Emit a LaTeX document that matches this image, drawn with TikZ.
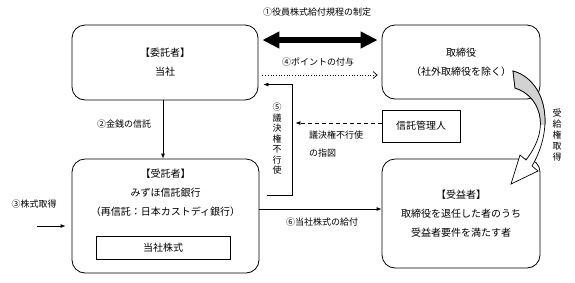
\documentclass[tikz,border=0pt]{standalone}
\usepackage{fontspec}
\setmainfont{Noto Sans CJK JP}
\usetikzlibrary{arrows.meta,positioning,calc}

\begin{document}
\begin{tikzpicture}[
  x=1pt, y=-1pt,
  font=\fontsize{10}{19}\selectfont,
  party/.style={draw, rounded corners=13pt, line width=0.8pt, align=center, fill=white},
  plain/.style={draw, line width=0.8pt, align=center},
  lbl/.style={font=\fontsize{9}{18}\selectfont, inner sep=0pt},
  vlbl/.style={font=\fontsize{9}{10.5}\selectfont, align=center, inner sep=0pt},
  arr/.style={-{Latex[length=5pt,width=4pt]}, line width=0.8pt},
  bigarr/.style={{Triangle[length=17pt,width=16pt]}-{Triangle[length=17pt,width=16pt]}, line width=6pt},
  dotarr/.style={-{Straight Barb[length=4pt,width=7pt]}, dotted, line width=0.7pt}
]
\useasboundingbox (0,0) rectangle (575,282);
% parties
\node[party, minimum width=186pt, minimum height=75pt] (entrust) at (165,62.5) {【委託者】\\当社};
\node[party, minimum width=158pt, minimum height=74pt] (director) at (461,62) {取締役\\（社外取締役を除く）};
\node[party, minimum width=187pt, minimum height=114pt] (trustee) at (165.5,216) {};
\node[align=center, below=7pt of trustee.north] (trusteetext) {【受託者】\\みずほ信託銀行\\（再信託：日本カストディ銀行）};
\node[plain, minimum width=134pt, minimum height=23pt] (stock) at (163,247.5) {当社株式};
\node[party, minimum width=158pt, minimum height=109pt] (benef) at (461,213.5) {【受益者】\\取締役を退任した者のうち\\受益者要件を満たす者};
\node[plain, minimum width=78pt, minimum height=32pt] (admin) at (421,126) {信託管理人};

% labels
\node[lbl] (rule) at (317,12) {①役員株式給付規程の制定};
\node[lbl] (money) at (124,124) {②金銭の信託};
\node[lbl] (buy) at (34,204) {③株式取得};
\node[lbl] (point) at (318,62) {④ポイントの付与};
\node[vlbl] (vote) at (277,139) {⑤\\議\\決\\権\\不\\行\\使};
\node[lbl] (give) at (322,222) {⑥当社株式の給付};
\node[lbl, align=left, anchor=west] (order) at (309,144) {議決権不行使\\の指図};
\node[vlbl, font=\fontsize{9}{11}\selectfont] (right) at (557,135) {受\\給\\権\\取\\得};

% connectors
\draw[bigarr] ([xshift=4pt,yshift=22.5pt]entrust.east) -- ([xshift=-4pt,yshift=22pt]director.west);
\draw[dotarr] ([xshift=4pt,yshift=-12.5pt]entrust.east) -- ([xshift=-4pt,yshift=-13pt]director.west);
\draw[arr] ([xshift=-2pt]entrust.south) -- ([xshift=-2pt]entrust.south |- trustee.north);
\coordinate (src) at (37,226);
\draw[arr] (src) -- ([xshift=-6pt]src -| trustee.west);
\coordinate (vtop) at ([xshift=34pt,yshift=-22pt]entrust.east);
\draw[arr] ([xshift=8pt,yshift=21pt]trustee.east) -| (vtop) -- ([xshift=5pt,yshift=-22pt]entrust.east);
\draw[arr, dashed, dash pattern=on 4pt off 3pt] ([yshift=3pt]admin.west) -- ([xshift=3pt,yshift=3pt]admin.west -| vtop);
\draw[arr] ([yshift=7pt]trustee.east) -- ([yshift=7pt]trustee.east -| benef.west);

% curved arrow
\draw[line width=0.7pt, fill=white] (513,71) .. controls (545,80) and (556,125) .. (532,166) -- (538,171) -- (511,184) -- (520,155) -- (526,160) .. controls (553,125) and (538,95) .. (515,88) -- cycle;
\begin{scope}
\clip (500,60) rectangle (560,124);
\draw[line width=0.7pt, fill=gray!35] (513,71) .. controls (545,80) and (556,125) .. (532,166) -- (538,171) -- (511,184) -- (520,155) -- (526,160) .. controls (553,125) and (538,95) .. (515,88) -- cycle;
\end{scope}
\end{tikzpicture}
\end{document}
